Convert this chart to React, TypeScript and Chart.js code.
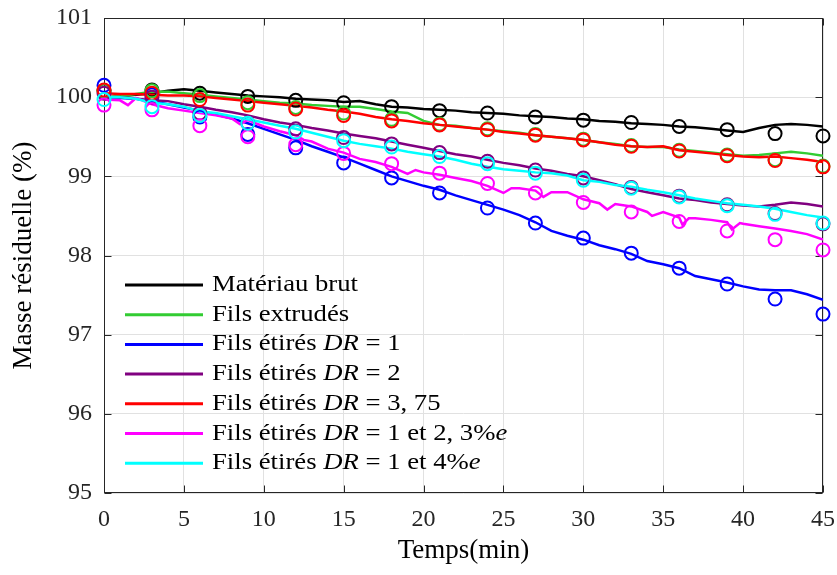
import React, { useEffect, useRef } from 'react';
import { Chart, registerables } from 'chart.js';

Chart.register(...registerables);

// ---------- data ----------
const timeLine = [0, 1, 2, 3, 4, 5, 6, 7, 8, 9, 10, 11, 12, 13, 14, 15, 16, 17, 18, 19, 20, 21, 22, 23, 24, 25, 26, 27, 28, 29, 30, 31, 32, 33, 34, 35, 36, 37, 38, 39, 40, 41, 42, 43, 44, 45];
const markerTime = [0, 3, 6, 9, 12, 15, 18, 21, 24, 27, 30, 33, 36, 39, 42, 45];

const brutLine = [100.0, 100.01, 100.03, 100.05, 100.08, 100.1, 100.08, 100.06, 100.04, 100.02, 100.01, 100.0, 99.98, 99.97, 99.96, 99.94, 99.95, 99.91, 99.88, 99.87, 99.85, 99.84, 99.83, 99.81, 99.8, 99.79, 99.77, 99.76, 99.75, 99.73, 99.72, 99.7, 99.69, 99.67, 99.66, 99.65, 99.63, 99.62, 99.6, 99.58, 99.56, 99.61, 99.65, 99.66, 99.65, 99.63];
const brutMarks = [100.08, 100.09, 100.05, 100.01, 99.96, 99.93, 99.88, 99.83, 99.8, 99.75, 99.71, 99.68, 99.63, 99.59, 99.54, 99.51];

const extrudLine = [100.0, 100.01, 100.04, 100.07, 100.07, 100.05, 100.03, 100.01, 99.99, 99.97, 99.95, 99.93, 99.92, 99.9, 99.89, 99.88, 99.88, 99.85, 99.82, 99.8, 99.7, 99.65, 99.64, 99.61, 99.59, 99.57, 99.55, 99.52, 99.5, 99.48, 99.46, 99.43, 99.41, 99.38, 99.37, 99.37, 99.34, 99.32, 99.3, 99.28, 99.26, 99.27, 99.29, 99.31, 99.29, 99.26];
const extrudMarks = [100.08, 100.08, 100.02, 99.93, 99.87, 99.8, 99.72, 99.66, 99.6, 99.53, 99.47, 99.39, 99.33, 99.27, 99.21, 99.13];

const dr1Line = [100.0, 99.99, 99.98, 99.95, 99.91, 99.87, 99.83, 99.78, 99.73, 99.67, 99.6, 99.53, 99.46, 99.38, 99.31, 99.24, 99.16, 99.08, 99.0, 98.94, 98.88, 98.83, 98.76, 98.7, 98.64, 98.58, 98.51, 98.42, 98.31, 98.25, 98.2, 98.13, 98.08, 98.02, 97.93, 97.89, 97.84, 97.74, 97.7, 97.66, 97.61, 97.57, 97.56, 97.56, 97.51, 97.44];
const dr1Marks = [100.15, 100.03, 99.75, 99.53, 99.36, 99.17, 98.98, 98.79, 98.6, 98.41, 98.22, 98.03, 97.84, 97.64, 97.45, 97.26];

const dr2Line = [100.0, 100.0, 99.98, 99.96, 99.95, 99.91, 99.88, 99.84, 99.81, 99.77, 99.72, 99.68, 99.65, 99.61, 99.58, 99.54, 99.51, 99.48, 99.44, 99.4, 99.36, 99.32, 99.28, 99.25, 99.21, 99.17, 99.14, 99.1, 99.07, 99.03, 99.0, 98.95, 98.9, 98.84, 98.8, 98.76, 98.72, 98.7, 98.67, 98.65, 98.63, 98.62, 98.64, 98.67, 98.65, 98.62];
const dr2Marks = [100.05, 100.0, 99.8, 99.67, 99.6, 99.49, 99.41, 99.3, 99.19, 99.08, 98.98, 98.86, 98.75, 98.64, 98.53, 98.4];

const dr375Line = [100.05, 100.04, 100.04, 100.03, 100.02, 100.02, 100.01, 99.99, 99.97, 99.95, 99.93, 99.91, 99.89, 99.87, 99.84, 99.82, 99.79, 99.75, 99.72, 99.7, 99.67, 99.65, 99.63, 99.61, 99.59, 99.56, 99.54, 99.52, 99.5, 99.48, 99.46, 99.43, 99.4, 99.38, 99.37, 99.38, 99.33, 99.31, 99.29, 99.27, 99.25, 99.24, 99.25, 99.23, 99.21, 99.18];
const dr375Marks = [100.09, 100.05, 99.97, 99.9, 99.85, 99.77, 99.7, 99.65, 99.59, 99.52, 99.46, 99.38, 99.32, 99.26, 99.2, 99.12];

const dr1e23Time = [0, 1, 1.5, 2, 3, 4, 5, 6, 7, 8, 8.5, 9, 10, 11, 12, 12.5, 13, 14, 15, 16, 17, 18, 19, 19.5, 20, 21, 22, 23, 24, 25, 25.5, 26, 27, 27.5, 28, 29, 30, 31, 31.5, 32, 33, 34, 34.3, 35, 36, 36.2, 36.6, 37, 38, 39, 39.3, 39.8, 40, 41, 42, 43, 44, 45];
const dr1e23Line = [99.97, 99.96, 99.9, 99.99, 99.91, 99.86, 99.83, 99.8, 99.77, 99.73, 99.66, 99.71, 99.63, 99.57, 99.52, 99.46, 99.44, 99.35, 99.3, 99.22, 99.18, 99.12, 99.03, 99.08, 99.05, 99.02, 98.98, 98.94, 98.88, 98.79, 98.85, 98.85, 98.82, 98.74, 98.8, 98.8, 98.71, 98.66, 98.58, 98.65, 98.62, 98.55, 98.5, 98.55, 98.48, 98.39, 98.47, 98.47, 98.45, 98.42, 98.33, 98.41, 98.4, 98.37, 98.34, 98.31, 98.27, 98.2];
const dr1e23Marks = [99.9, 99.84, 99.64, 99.5, 99.4, 99.29, 99.16, 99.04, 98.91, 98.79, 98.67, 98.55, 98.43, 98.31, 98.2, 98.07];

const dr1e4Line = [100.0, 100.0, 99.98, 99.93, 99.91, 99.88, 99.82, 99.8, 99.76, 99.72, 99.68, 99.64, 99.6, 99.55, 99.5, 99.45, 99.41, 99.38, 99.35, 99.31, 99.28, 99.25, 99.21, 99.16, 99.12, 99.09, 99.07, 99.05, 99.04, 99.01, 98.95, 98.93, 98.89, 98.87, 98.83, 98.8, 98.76, 98.72, 98.69, 98.66, 98.64, 98.62, 98.59, 98.55, 98.51, 98.48];
const dr1e4Marks = [99.97, 99.88, 99.77, 99.67, 99.56, 99.45, 99.37, 99.25, 99.16, 99.04, 98.95, 98.85, 98.74, 98.63, 98.52, 98.41];

const xTicks = [0, 5, 10, 15, 20, 25, 30, 35, 40, 45];
const yTicks = [95, 96, 97, 98, 99, 100, 101];

const seriesColors = ['#000000', '#33cc33', '#0000ff', '#800080', '#ff0000', '#ff00ff', '#00ffff'];

// legend label pieces: r = roman, i = italic (math)
const legendLabels: [string, string][][] = [
  [['Matériau brut', 'r']],
  [['Fils extrudés', 'r']],
  [['Fils étirés ', 'r'], ['DR', 'i'], [' = 1', 'r']],
  [['Fils étirés ', 'r'], ['DR', 'i'], [' = 2', 'r']],
  [['Fils étirés ', 'r'], ['DR', 'i'], [' = 3, 75', 'r']],
  [['Fils étirés ', 'r'], ['DR', 'i'], [' = 1 et 2, 3%', 'r'], ['e', 'i']],
  [['Fils étirés ', 'r'], ['DR', 'i'], [' = 1 et 4%', 'r'], ['e', 'i']],
];

const FONT = "'Liberation Serif', 'Times New Roman', serif";

const toPts = (t: number[], v: number[]) => t.map((x, i) => ({ x, y: v[i] }));

const lineSeries = [
  toPts(timeLine, brutLine),
  toPts(timeLine, extrudLine),
  toPts(timeLine, dr1Line),
  toPts(timeLine, dr2Line),
  toPts(timeLine, dr375Line),
  toPts(dr1e23Time, dr1e23Line),
  toPts(timeLine, dr1e4Line),
];
const markSeries = [brutMarks, extrudMarks, dr1Marks, dr2Marks, dr375Marks, dr1e23Marks, dr1e4Marks].map((m) => toPts(markerTime, m));

const boxPlugin = {
  id: 'boxTicks',
  beforeDatasetsDraw(chart: any) {
    const { ctx, chartArea: a, scales } = chart;
    ctx.save();
    ctx.strokeStyle = '#262626';
    ctx.lineWidth = 1;
    const L = Math.round(a.left) + 0.5, R = Math.round(a.right) - 0.5;
    const T = Math.round(a.top) + 0.5, B = Math.round(a.bottom) - 0.5;
    ctx.strokeRect(L, T, R - L, B - T);
    const tl = 7;
    ctx.beginPath();
    xTicks.forEach((v) => {
      const x = Math.round(scales.x.getPixelForValue(v)) + 0.5;
      ctx.moveTo(x, B); ctx.lineTo(x, B - tl);
      ctx.moveTo(x, T); ctx.lineTo(x, T + tl);
    });
    yTicks.forEach((v) => {
      const y = Math.round(scales.y.getPixelForValue(v)) + 0.5;
      ctx.moveTo(L, y); ctx.lineTo(L + tl, y);
      ctx.moveTo(R, y); ctx.lineTo(R - tl, y);
    });
    ctx.stroke();
    ctx.restore();
  },
};

const legendPlugin = {
  id: 'innerLegend',
  afterDatasetsDraw(chart: any) {
    const { ctx, chartArea: a } = chart;
    ctx.save();
    const x0 = a.left + 21, x1 = a.left + 99, tx = a.left + 108;
    const y0 = 285, dy = 29.7;
    const size = 24;
    const fr = `${size}px ${FONT}`;
    const fi = `italic ${size}px ${FONT}`;
    ctx.font = fr;
    const sx = 146 / ctx.measureText('Matériau brut').width;
    legendLabels.forEach((pieces, i) => {
      const y = y0 + i * dy;
      ctx.strokeStyle = seriesColors[i];
      ctx.lineWidth = 3;
      ctx.beginPath();
      ctx.moveTo(x0, y);
      ctx.lineTo(x1, y);
      ctx.stroke();
      ctx.save();
      ctx.translate(tx, y + 6);
      ctx.scale(sx, 1);
      ctx.fillStyle = '#000';
      ctx.textBaseline = 'alphabetic';
      let cx = 0;
      pieces.forEach(([txt, st]) => {
        ctx.font = st === 'i' ? fi : fr;
        ctx.fillText(txt, cx, 0);
        cx += ctx.measureText(txt).width;
      });
      ctx.restore();
    });
    ctx.restore();
  },
};

export default function App() {
  const ref = useRef<HTMLCanvasElement | null>(null);
  useEffect(() => {
    document.body.style.margin = '0';
    const canvas = ref.current;
    if (!canvas) return;
    const datasets: any[] = [];
    lineSeries.forEach((d, i) => {
      datasets.push({
        type: 'line',
        data: d,
        borderColor: seriesColors[i],
        backgroundColor: seriesColors[i],
        borderWidth: 2.5,
        pointRadius: 0,
        tension: 0,
        fill: false,
        order: 100 - i,
      });
    });
    markSeries.forEach((d, i) => {
      datasets.push({
        type: 'line',
        data: d,
        showLine: false,
        borderColor: seriesColors[i],
        backgroundColor: 'rgba(0,0,0,0)',
        pointStyle: 'circle',
        pointRadius: 6.5,
        pointBorderWidth: 2,
        pointBorderColor: seriesColors[i],
        pointBackgroundColor: 'rgba(0,0,0,0)',
        clip: false,
        order: 50 - i,
      });
    });
    const tickFont = { family: FONT, size: 24 };
    const chart = new Chart(canvas, {
      type: 'line',
      data: { datasets },
      options: {
        animation: false,
        responsive: false,
        events: [],
        layout: { padding: { top: 18, right: 14, left: 0, bottom: 0 } },
        plugins: { legend: { display: false }, tooltip: { enabled: false } },
        scales: {
          x: {
            type: 'linear',
            min: 0,
            max: 45,
            afterFit: (s: any) => { s.height = 82; s.paddingLeft = 0; s.paddingRight = 0; },
            afterBuildTicks: (s: any) => { s.ticks = xTicks.map((v) => ({ value: v })); },
            ticks: { font: tickFont, color: '#262626', padding: 12, maxRotation: 0, autoSkip: false },
            grid: { color: '#e1e1e1', lineWidth: 1, drawTicks: false },
            border: { display: false },
            title: { display: true, text: 'Temps(min)', font: { family: FONT, size: 27 }, color: '#000', padding: { top: 0, bottom: 8 } },
          },
          y: {
            type: 'linear',
            min: 95,
            max: 101,
            afterFit: (s: any) => { s.width = 104; s.paddingTop = 0; s.paddingBottom = 0; },
            afterBuildTicks: (s: any) => { s.ticks = yTicks.map((v) => ({ value: v })); },
            ticks: { font: tickFont, color: '#262626', padding: 12, autoSkip: false },
            grid: { color: '#e1e1e1', lineWidth: 1, drawTicks: false },
            border: { display: false },
            title: { display: true, text: 'Masse résiduelle (%)', font: { family: FONT, size: 27 }, color: '#000', padding: { top: 8, bottom: 0 } },
          },
        },
      },
      plugins: [boxPlugin, legendPlugin],
    } as any);
    return () => chart.destroy();
  }, []);
  return (
    <div style={{ width: 837, height: 575, background: '#fff' }}>
      <canvas ref={ref} width={837} height={575} style={{ display: 'block', width: 837, height: 575 }} />
    </div>
  );
}
